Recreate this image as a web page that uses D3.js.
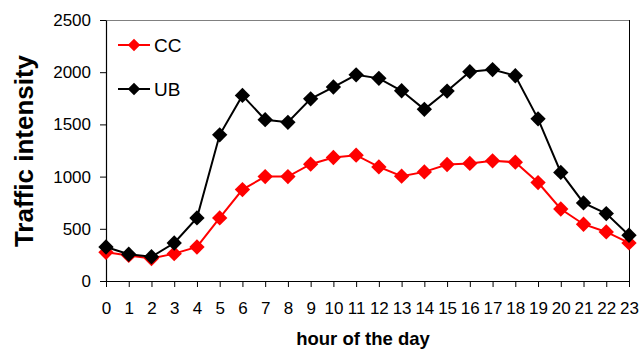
<!DOCTYPE html>
<html><head><meta charset="utf-8">
<script src="https://cdn.jsdelivr.net/npm/d3@7"></script>
<style>body{margin:0;background:#fff}text{font-family:"Liberation Sans",Arial,sans-serif}</style>
</head><body><svg id="c" width="641" height="351"></svg>
<script>
const hours = d3.range(0, 24);
const ccValues = [275, 245, 215, 262, 326, 604, 876, 1000, 1000, 1119, 1183, 1205, 1093, 1004, 1045, 1116, 1126, 1151, 1138, 943, 690, 544, 470, 365];
const ubValues = [326, 256, 232, 364, 604, 1400, 1778, 1545, 1520, 1745, 1858, 1975, 1941, 1822, 1644, 1819, 2005, 2025, 1966, 1553, 1040, 748, 646, 438];
const yTicks = [0, 500, 1000, 1500, 2000, 2500];
const seriesNames = ["CC", "UB"];
const seriesColors = ["#ff0000", "#000000"];

const svg = d3.select("#c");
const L = 106, R = 629, T = 20, B = 281;
const x = d3.scaleLinear().domain([0, 23]).range([L, R]);
const y = d3.scaleLinear().domain([0, 2500]).range([B, T]);

// plot border
svg.append("line").attr("x1", L).attr("x2", R).attr("y1", T + 0.5).attr("y2", T + 0.5).attr("stroke", "#808080").attr("stroke-width", 1);
svg.append("line").attr("x1", R + 0.5).attr("x2", R + 0.5).attr("y1", T).attr("y2", B).attr("stroke", "#000").attr("stroke-width", 1);

const yAxis = svg.append("g").attr("transform", `translate(${L},0)`)
  .call(d3.axisLeft(y).tickValues(yTicks).tickSize(6).tickSizeOuter(0).tickPadding(9).tickFormat(d3.format("d")));
const xAxis = svg.append("g").attr("transform", `translate(0,${B})`)
  .call(d3.axisBottom(x).tickValues(hours).tickSize(6).tickSizeOuter(0).tickPadding(15).tickFormat(d3.format("d")));
[yAxis, xAxis].forEach(g => {
  g.select(".domain").attr("stroke", "#000").attr("stroke-width", 1.2);
  g.selectAll(".tick line").attr("stroke", "#000");
  g.selectAll("text").attr("font-family", "Liberation Sans, Arial, sans-serif").attr("font-size", 17).attr("fill", "#000");
});

const diamond = d3.symbol().type(d3.symbolDiamond2);
[ccValues, ubValues].forEach((vals, i) => {
  const line = d3.line().x((d, j) => x(hours[j])).y(d => y(d));
  svg.append("path").datum(vals).attr("d", line).attr("fill", "none").attr("stroke", seriesColors[i]).attr("stroke-width", 2);
  svg.selectAll(null).data(vals).enter().append("path")
    .attr("d", diamond.size(150)())
    .attr("transform", (d, j) => `translate(${x(hours[j])},${y(d)})`)
    .attr("fill", seriesColors[i]);
});

// legend
const legY = [45, 89];
seriesNames.forEach((n, i) => {
  const g = svg.append("g");
  g.append("line").attr("x1", 118).attr("x2", 150).attr("y1", legY[i]).attr("y2", legY[i]).attr("stroke", seriesColors[i]).attr("stroke-width", 2);
  g.append("path").attr("d", diamond.size(100)()).attr("transform", `translate(134,${legY[i]})`).attr("fill", seriesColors[i]);
  g.append("text").attr("x", 154).attr("y", legY[i] + 7).attr("font-size", 19).text(n);
});

svg.append("text").attr("transform", "translate(33,151) rotate(-90)").attr("text-anchor", "middle")
  .attr("font-weight", "bold").attr("font-size", 26).text("Traffic intensity");
svg.append("text").attr("x", 363).attr("y", 345).attr("text-anchor", "middle")
  .attr("font-weight", "bold").attr("font-size", 18.5).text("hour of the day");
</script></body></html>
